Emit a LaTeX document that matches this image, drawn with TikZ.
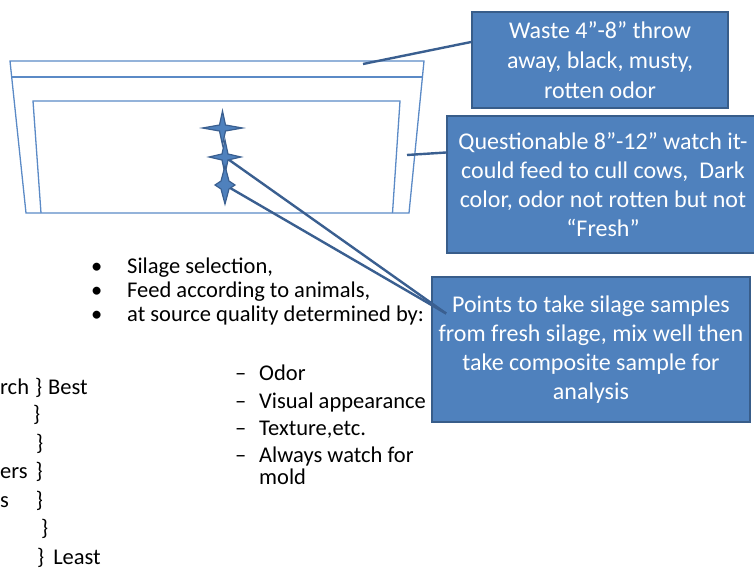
\documentclass[tikz,border=0pt]{standalone}
\usepackage{fontspec}
\setmainfont{Carlito}
\usetikzlibrary{calc}
\definecolor{boxfill}{HTML}{4F81BD}
\definecolor{boxline}{HTML}{385D8A}
\definecolor{conncol}{HTML}{3A5F90}
\definecolor{trapcol}{HTML}{5B8AC6}
\newcommand\fourstar[4]{% center, half width, half height, inner
  \filldraw[starfill, shift={(#1)}] (-#2,0) -- (-#4,-#4) -- (0,-#3) -- (#4,-#4) -- (#2,0) -- (#4,#4) -- (0,#3) -- (-#4,#4) -- cycle;}
\begin{document}
\begin{tikzpicture}[x=1pt,y=-1pt,
  calloutbox/.style={draw=boxline,line width=1.8pt,fill=boxfill,text=white,align=center,inner sep=0pt},
  boxfont/.style={font=\fontsize{24}{29}\selectfont},
  conn/.style={draw=conncol,line width=2.4pt},
  trapline/.style={draw=trapcol,line width=1.3pt},
  starfill/.style={fill=boxfill,draw=conncol,line width=1.2pt,line join=miter},
  bodytext/.style={font=\fontsize{22.5}{24}\selectfont,anchor=base west,inner sep=0pt,text=black}]
\useasboundingbox (0,0) rectangle (754,569);
% trapezoid bunker
\draw[trapline] (10,61) -- (424,61) -- (409,213) -- (26,213) -- cycle;
\draw[trapline] (11.5,77) -- (422.5,77);
\draw[trapline] (41,213) -- (33,101) -- (400,101) -- (392.5,213);
% boxes
\node[calloutbox,boxfont,minimum width=256pt,minimum height=96pt] (waste) at (600,60)
  {Waste 4”-8” throw\\[1pt]away, black, musty,\\[1pt]rotten odor};
\node[calloutbox,boxfont,minimum width=312pt,minimum height=137pt] (quest) at (603,184.5)
  {Questionable 8”-12” watch it-\\could feed to cull cows,\ \ Dark\\color, odor not rotten but not\\“Fresh”};
\node[calloutbox,boxfont,minimum width=318pt,minimum height=145pt] (points) at (591,349.5)
  {Points to take silage samples\\from fresh silage, mix well then\\take composite sample for\\analysis};
% anchor points
\coordinate (wl) at (363,64);
\coordinate (ql) at (407,155);
\coordinate (s1) at (222.5,128);
\coordinate (s2) at (225,157);
\coordinate (s3) at (225,185);
\coordinate (pt) at ([xshift=15pt,yshift=36pt]points.west);
% connectors
\draw[conn] (wl) -- ([yshift=18pt]waste.west);
\draw[conn] (ql) -- ([yshift=32pt]quest.west);
\draw[conn] (s2) -- (pt);
\draw[conn] (s3) -- (pt);
% stars
\fourstar{s1}{20}{17}{3}
\fourstar{s2}{16}{17}{3}
\fourstar{s3}{10}{19}{4}
% bullet list
\node[bodytext] (b1) at (91,273) {•};
\node[bodytext] (t1) at (127,273) {Silage selection,};
\node[bodytext] (b2) at (91,297) {•};
\node[bodytext] (t2) at (127,297) {Feed according to animals,};
\node[bodytext] (b3) at (91,321) {•};
\node[bodytext] (t3) at (127,321) {at source quality determined by:};
\node[bodytext] (d1) at (235,380) {–};
\node[bodytext] (u1) at (259,380) {Odor};
\node[bodytext] (d2) at (235,408) {–};
\node[bodytext] (u2) at (259,408) {Visual appearance};
\node[bodytext] (d3) at (235,435) {–};
\node[bodytext] (u3) at (259,435) {Texture,etc.};
\node[bodytext] (d4) at (235,462) {–};
\node[bodytext] (u4) at (259,462) {Always watch for};
\node[bodytext] (u5) at (259,484) {mold};
% left ranking text
\node[bodytext] (r1) at (0,394) {rch\hspace{6pt}\}\hspace{6pt}Best};
\node[bodytext] (r2) at (33,421) {\}};
\node[bodytext] (r3) at (36,450) {\}};
\node[bodytext] (r4) at (0,478) {ers\hspace{8pt}\}};
\node[bodytext] (r5) at (0,507) {s\hspace{27pt}\}};
\node[bodytext] (r6) at (41,535) {\}};
\node[bodytext] (r7) at (37,564) {\}\hspace{9pt}Least};
\end{tikzpicture}
\end{document}
